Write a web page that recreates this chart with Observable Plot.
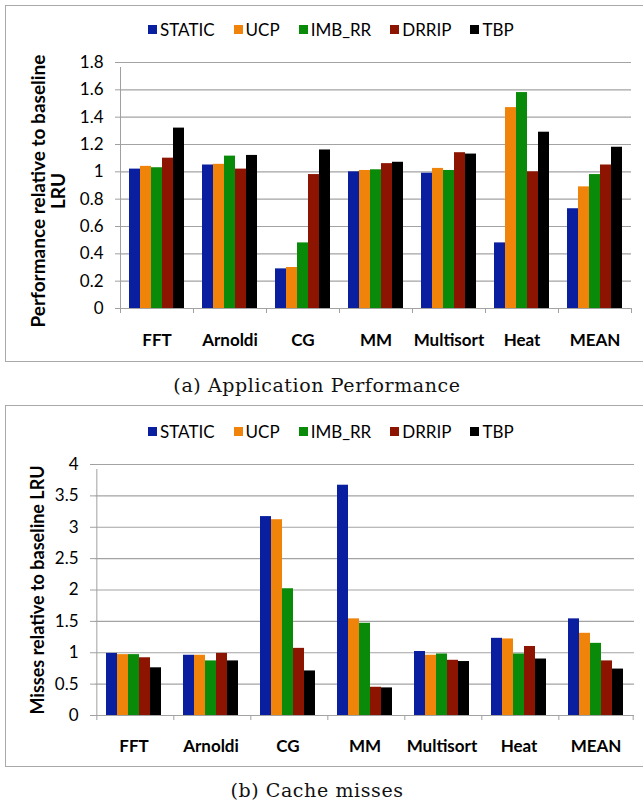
<!DOCTYPE html>
<html>
<head>
<meta charset="utf-8">
<script src="https://cdn.jsdelivr.net/npm/d3@7"></script>
<script src="https://cdn.jsdelivr.net/npm/@observablehq/plot@0.6"></script>
<style>
  html, body { margin: 0; padding: 0; background: #fff; }
  body { width: 643px; height: 805px; overflow: hidden; position: relative; font-family: Lato, "Open Sans", sans-serif; }
  .panel { position: absolute; left: 5px; width: 660px; border: 1px solid #a9a9a9; box-sizing: border-box; }
  .legend { position: absolute; left: 142px; display: flex; align-items: center; font-size: 17px; color: #000; white-space: nowrap; }
  .legend .item { display: flex; align-items: center; margin-right: 19px; }
  .legend .sw { width: 9px; height: 9px; margin-right: 3px; }
  .chart { position: absolute; left: 0; }
  .ylab { position: absolute; font-weight: bold; white-space: nowrap; color: #000; transform: translate(-50%, -50%) rotate(-90deg); }
  .caption { position: absolute; left: 317px; transform: translate(-50%, -50%); font-family: "DejaVu Serif", serif; font-size: 19px; letter-spacing: 0.6px; white-space: nowrap; color: #111; }
  svg [aria-label^="y-axis"] line, svg [aria-label="y-axis tick"] path { stroke: #a0a0a0; }
  svg [aria-label^="fx-axis"] text { font-weight: bold; }
</style>
</head>
<body>
<div id="root"></div>
<script>
// ---------- data ----------
const categories = ["FFT", "Arnoldi", "CG", "MM", "Multisort", "Heat", "MEAN"];
const series = ["STATIC", "UCP", "IMB_RR", "DRRIP", "TBP"];
const seriesColors = ["#0a1f9f", "#f08309", "#098a09", "#8c1400", "#000000"];

// (a) Application performance relative to baseline LRU
const perfSTATIC = [1.02, 1.05, 0.29, 1.00, 0.99, 0.48, 0.73];
const perfUCP    = [1.04, 1.055, 0.30, 1.01, 1.025, 1.47, 0.89];
const perfIMB_RR = [1.03, 1.115, 0.48, 1.015, 1.01, 1.58, 0.98];
const perfDRRIP  = [1.10, 1.02, 0.98, 1.06, 1.14, 1.00, 1.05];
const perfTBP    = [1.32, 1.12, 1.16, 1.07, 1.13, 1.29, 1.18];
const perfTicks  = [0, 0.2, 0.4, 0.6, 0.8, 1, 1.2, 1.4, 1.6, 1.8];

// (b) Cache misses relative to baseline LRU
const missSTATIC = [0.99, 0.96, 3.17, 3.67, 1.02, 1.23, 1.54];
const missUCP    = [0.97, 0.96, 3.12, 1.54, 0.96, 1.22, 1.31];
const missIMB_RR = [0.97, 0.87, 2.02, 1.47, 0.98, 0.98, 1.15];
const missDRRIP  = [0.92, 0.99, 1.07, 0.45, 0.88, 1.10, 0.87];
const missTBP    = [0.76, 0.87, 0.71, 0.44, 0.86, 0.90, 0.74];
const missTicks  = [0, 0.5, 1, 1.5, 2, 2.5, 3, 3.5, 4];

function buildRows(arrays) {
  const rows = [];
  categories.forEach((cat, i) => {
    series.forEach((s, j) => rows.push({cat, series: s, value: arrays[j][i]}));
  });
  return rows;
}
const perfRows = buildRows([perfSTATIC, perfUCP, perfIMB_RR, perfDRRIP, perfTBP]);
const missRows = buildRows([missSTATIC, missUCP, missIMB_RR, missDRRIP, missTBP]);

// ---------- drawing ----------
const root = document.getElementById("root");

function legendEl(top) {
  const lg = document.createElement("div");
  lg.className = "legend";
  lg.style.top = top + "px";
  series.forEach((s, j) => {
    const it = document.createElement("div");
    it.className = "item";
    const sw = document.createElement("div");
    sw.className = "sw";
    sw.style.background = seriesColors[j];
    const tx = document.createElement("span");
    tx.textContent = s;
    it.appendChild(sw); it.appendChild(tx);
    lg.appendChild(it);
  });
  return lg;
}

function makeChart(rows, ticks, opts) {
  const W = 637;
  const fw = (W - opts.marginLeft - opts.marginRight) / categories.length;
  const padOuter = 0.8;
  const step = fw / (series.length + 2 * padOuter);
  const edge = (padOuter + 0.5) * step;
  const ymax = ticks[ticks.length - 1];
  return Plot.plot({
    width: W,
    height: opts.height,
    marginLeft: opts.marginLeft,
    marginRight: opts.marginRight,
    marginTop: opts.marginTop,
    marginBottom: opts.marginBottom,
    style: {fontFamily: "Lato, 'Open Sans', sans-serif", fontSize: "17px", color: "#000", background: "transparent", overflow: "visible"},
    facet: {data: rows, x: "cat"},
    fx: {domain: categories, padding: 0, label: null, axis: "bottom", tickSize: 0, tickPadding: opts.catPad},
    x: {domain: series, axis: null, paddingInner: 0, paddingOuter: padOuter},
    y: {domain: [0, ymax], ticks: ticks, tickFormat: d => String(d), tickSize: 5, tickPadding: 12, label: null},
    color: {domain: series, range: seriesColors},
    marks: [
      Plot.ruleY(ticks, {stroke: "#a3a3a3", strokeWidth: 1.2}),
      Plot.barY(rows, {x: "series", y: "value", fill: "series"}),
      // left value axis line
      Plot.ruleX(rows, {filter: d => d.cat === categories[0] && d.series === series[0], x: "series", dx: -edge, y1: 0, y2: ymax, insetBottom: -5, stroke: "#a0a0a0"}),
      // category separator ticks (left edge of every group)
      Plot.ruleX(rows, {filter: d => d.series === series[0], x: "series", dx: -edge, y1: 0, y2: 0, insetBottom: -5, stroke: "#a0a0a0"}),
      // closing tick at right end
      Plot.ruleX(rows, {filter: d => d.cat === categories[categories.length - 1] && d.series === series[series.length - 1], x: "series", dx: edge, y1: 0, y2: 0, insetBottom: -5, stroke: "#a0a0a0"})
    ]
  });
}

function panel(top, height, legendTop, svgTop, chart) {
  const p = document.createElement("div");
  p.className = "panel";
  p.style.top = top + "px";
  p.style.height = height + "px";
  p.appendChild(legendEl(legendTop));
  const c = document.createElement("div");
  c.className = "chart";
  c.style.top = svgTop + "px";
  c.appendChild(chart);
  p.appendChild(c);
  root.appendChild(p);
}

function label(text, x, y, size) {
  const d = document.createElement("div");
  d.className = "ylab";
  d.textContent = text;
  d.style.left = x + "px";
  d.style.top = y + "px";
  d.style.fontSize = size + "px";
  root.appendChild(d);
}

function caption(text, y) {
  const d = document.createElement("div");
  d.className = "caption";
  d.textContent = text;
  d.style.top = y + "px";
  root.appendChild(d);
}

// Panel (a)
panel(5, 357, 13, 39,
  makeChart(perfRows, perfTicks, {height: 308, marginLeft: 112, marginRight: 10, marginTop: 17, marginBottom: 45, catPad: 25}));
label("Performance relative to baseline", 37, 191, 19);
label("LRU", 57, 191, 19);
caption("(a) Application Performance", 385);

// Panel (b)
panel(405, 362, 15, 41,
  makeChart(missRows, missTicks, {height: 313, marginLeft: 89, marginRight: 9, marginTop: 17, marginBottom: 45, catPad: 24}));
label("Misses relative to baseline LRU", 37, 590, 18);
caption("(b) Cache misses", 790);
</script>
</body>
</html>
